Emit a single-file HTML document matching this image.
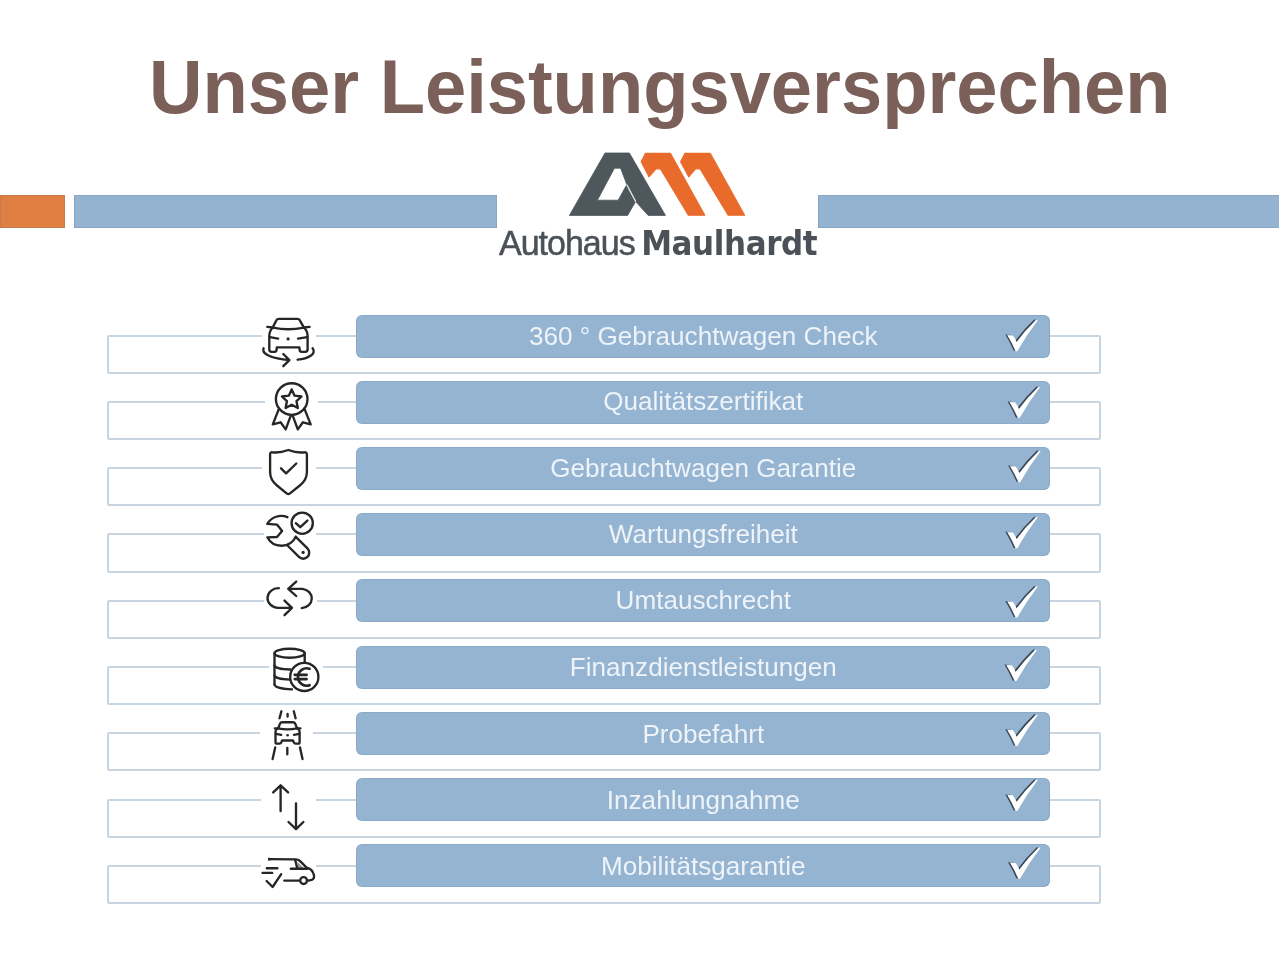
<!DOCTYPE html>
<html lang="de">
<head>
<meta charset="utf-8">
<title>Unser Leistungsversprechen</title>
<style>
html,body{margin:0;padding:0;background:#fff;}
body{width:1279px;height:960px;position:relative;overflow:hidden;font-family:"Liberation Sans",sans-serif;}
h1{position:absolute;left:149px;top:45.5px;margin:0;font-size:74.12px;line-height:84px;font-weight:bold;color:#7b6059;white-space:nowrap;letter-spacing:0px;transform:scaleY(1.032);transform-origin:0 67px;}
.hb{position:absolute;top:195px;height:33px;box-shadow:inset 0 0 0 1px rgba(100,110,130,0.2);}
.hb.o{left:0;width:65px;background:#e07f42;}
.hb.l{left:74px;width:423px;background:#93b3d1;}
.hb.r{left:818px;width:470px;background:#93b3d1;}
.logo{position:absolute;left:560px;top:145px;width:200px;height:80px;}
.brand{position:absolute;left:499px;top:223px;height:40px;line-height:40px;color:#4b5156;white-space:nowrap;}
.brand span{display:inline-block;}
.brand .a{transform:scaleY(1.05);transform-origin:0 31.8px;font-family:"Liberation Sans",sans-serif;font-size:34px;letter-spacing:-1px;-webkit-text-stroke:0.5px #4b5156;}
.brand .m{transform:scaleY(1.1);transform-origin:0 30.7px;font-family:"DejaVu Sans","Liberation Sans",sans-serif;font-size:31px;font-weight:bold;letter-spacing:-0.4px;margin-left:2px;}
ul{list-style:none;margin:0;padding:0;}
li{position:absolute;left:0;width:1279px;height:66px;}
li .box{position:absolute;left:107px;top:20px;width:990px;height:35px;border:2px solid #c8d5e1;border-radius:2px;box-sizing:content-box;}
li .ic{position:absolute;left:261px;top:-2px;width:55px;height:56px;background:#fff;}
li svg.icon{position:absolute;left:250px;width:80px;height:70px;overflow:visible;}
li .bar{position:absolute;left:356px;top:0;width:694px;height:43px;background:#94b4d2;border-radius:6px;box-shadow:inset 0 0 0 1px rgba(100,125,160,0.18);color:#edf3f8;font-size:26.1px;line-height:43px;text-align:center;}
li .bar span{display:block;position:relative;padding-left:0.6px;}
li .ck{position:absolute;left:1000px;top:0;width:46px;height:43px;overflow:visible;}
svg .s{fill:none;stroke:#262626;stroke-width:2.35;stroke-linecap:round;stroke-linejoin:round;}
</style>
</head>
<body>
<h1>Unser Leistungsversprechen</h1>
<div class="hb o"></div><div class="hb l"></div><div class="hb r"></div>
<svg class="logo" viewBox="560 145 200 80">
<path fill="#4d575c" stroke="#4d575c" stroke-width="0.8" stroke-linejoin="round" fill-rule="evenodd" d="M569.4 215.4 L605 153 L629.4 153 L665.5 215.4 L648.2 215.4 L635.6 201.6 L627.6 215.4 Z M614.4 168.2 L620.6 168.2 L626.8 184.6 L618.2 200.2 L597.4 200.2 Z"/>
<path fill="#e96b2c" stroke="#e96b2c" stroke-width="1.2" stroke-linejoin="round" d="M645.4 153.4 L670.4 153.4 L704.8 215.2 L688.4 215.2 L660.4 168.8 L656 168.8 L649 176.8 L641.2 161.8 Z"/>
<path fill="#e96b2c" stroke="#e96b2c" stroke-width="1.2" stroke-linejoin="round" d="M685 153.4 L710.2 153.4 L744.6 215.2 L728.2 215.2 L700 168.8 L695.6 168.8 L688.7 176.8 L680.6 161.8 Z"/>
<path d="M626.8 184.8 L635.8 201.8" stroke="#fff" stroke-width="1.3" opacity="0.9" fill="none"/>
</svg>
<div class="brand"><span class="a">Autohaus</span> <span class="m">Maulhardt</span></div>
<ul id="rows">
<li style="top:315px">
<div class="box" style="top:20px;height:35px"></div>
<div class="ic" style="left:262px;width:54px"></div>
<svg class="icon" style="top:-10px" viewBox="250 305 80 70">
<path class="s" d="M272.8 327.4 L276.2 320.6 Q277 318.9 279 318.9 L297.2 318.9 Q299.2 318.9 300 320.6 L303.8 327.4"/>
<path class="s" d="M267.3 326.9 L272.8 327.5 M303.8 327.5 L309.6 326.9"/>
<path class="s" d="M273 327.6 Q288 331 304 327.6"/>
<path class="s" d="M272.8 327.5 Q269.3 331 269.3 336 L269.3 349.5 Q269.3 351.8 271.6 351.8 L274.6 351.8 Q276.4 351.8 276.6 349.6 L276.8 347.3 L299.4 347.3 L299.6 349.6 Q299.8 351.8 301.8 351.8 L305.2 351.8 Q307.6 351.8 307.6 349.5 L307.6 336 Q307.6 331 304 327.5"/>
<path class="s" d="M269.8 337.1 L278.2 338.6 M298 338.6 L307.2 337.1"/>
<circle cx="288.1" cy="338.9" r="1.6" fill="#262626"/>
<path class="s" d="M263.6 348.2 C261 354 272 358.6 289.2 360.1 M283.3 354 L289.4 360.1 L283.3 366.2"/>
<path class="s" d="M297.6 359.7 C308 358.6 317 354 312.6 348.2"/>
</svg>
<div class="bar"><span style="top:0px">360 ° Gebrauchtwagen Check</span></div>
<svg class="ck" viewBox="1000.0 0.0 46 43"><path d="M1007.2 20 L1012.8 20.4 Q1015.2 23.4 1016.6 27 Q1025.2 15.2 1036 5 L1037.8 5.2 Q1026.2 20.4 1017.3 36.2 L1015.6 36.2 Q1011.8 27.5 1007.2 20 Z" fill="#3b4856" transform="translate(-1.9 -0.4)"/><path d="M1007.2 20 L1012.8 20.4 Q1015.2 23.4 1016.6 27 Q1025.2 15.2 1036 5 L1037.8 5.2 Q1026.2 20.4 1017.3 36.2 L1015.6 36.2 Q1011.8 27.5 1007.2 20 Z" fill="#fff"/></svg>
</li>
<li style="top:381px">
<div class="box" style="top:20px;height:35px"></div>
<div class="ic" style="left:265px;width:53px"></div>
<svg class="icon" style="top:-9px" viewBox="250 372 80 70">
<circle class="s" cx="291.7" cy="399" r="15.8"/>
<path class="s" d="M291.7 389.4 L294.6 395.7 L301.5 396.5 L296.5 401.2 L297.8 408.0 L291.7 404.7 L285.6 408.0 L286.9 401.2 L281.9 396.5 L288.8 395.7 Z"/>
<path class="s" d="M279 408.6 L272.8 424.4 L280.6 422.3 L285.7 429.4 L290.8 415.6 M304.4 408.6 L310.7 424.4 L302.9 422.3 L297.8 429.4 L292.7 415.6"/>
</svg>
<div class="bar"><span style="top:-1px">Qualitätszertifikat</span></div>
<svg class="ck" viewBox="997.7 -0.9 46 43"><path d="M1007.2 20 L1012.8 20.4 Q1015.2 23.4 1016.6 27 Q1025.2 15.2 1036 5 L1037.8 5.2 Q1026.2 20.4 1017.3 36.2 L1015.6 36.2 Q1011.8 27.5 1007.2 20 Z" fill="#3b4856" transform="translate(-1.9 -0.4)"/><path d="M1007.2 20 L1012.8 20.4 Q1015.2 23.4 1016.6 27 Q1025.2 15.2 1036 5 L1037.8 5.2 Q1026.2 20.4 1017.3 36.2 L1015.6 36.2 Q1011.8 27.5 1007.2 20 Z" fill="#fff"/></svg>
</li>
<li style="top:447px">
<div class="box" style="top:20px;height:35px"></div>
<div class="ic" style="left:262px;width:54px"></div>
<svg class="icon" style="top:-9px" viewBox="250 438 80 70">
<path class="s" d="M288.3 450 Q280 453.2 272.2 452.3 Q270.1 452.2 270.1 454.4 L270.1 472 Q270.1 480 277 485.5 L286.6 493.4 Q288.3 494.8 290 493.4 L299.8 485.5 Q306.9 480 306.9 472 L306.9 454.4 Q306.9 452.2 304.6 452.3 Q296.6 453.2 288.3 450 Z"/>
<path class="s" d="M281 468.3 L286.1 473.4 L296.3 463.5"/>
</svg>
<div class="bar"><span style="top:0px">Gebrauchtwagen Garantie</span></div>
<svg class="ck" viewBox="997.2 1.0 46 43"><path d="M1007.2 20 L1012.8 20.4 Q1015.2 23.4 1016.6 27 Q1025.2 15.2 1036 5 L1037.8 5.2 Q1026.2 20.4 1017.3 36.2 L1015.6 36.2 Q1011.8 27.5 1007.2 20 Z" fill="#3b4856" transform="translate(-1.9 -0.4)"/><path d="M1007.2 20 L1012.8 20.4 Q1015.2 23.4 1016.6 27 Q1025.2 15.2 1036 5 L1037.8 5.2 Q1026.2 20.4 1017.3 36.2 L1015.6 36.2 Q1011.8 27.5 1007.2 20 Z" fill="#fff"/></svg>
</li>
<li style="top:513px">
<div class="box" style="top:20px;height:36px"></div>
<div class="ic" style="left:264px;width:52px"></div>
<svg class="icon" style="top:-11px" viewBox="250 502 80 70">
<circle class="s" cx="302.2" cy="523.2" r="10.6"/>
<path class="s" d="M295.8 523.2 L300.3 527.2 L307.4 520.6"/>
<path class="s" d="M287.4 517.2 A16 16 0 0 0 267.3 523.9 L277 524.6 L282.1 531 L277 537 L267.3 537.3 A16 16 0 0 0 295.8 536.8"/>
<path class="s" d="M287.5 545.5 L298.95 556.95 A6.01 6.01 0 0 0 307.45 548.45 L295.8 536.8"/>
<circle cx="303.1" cy="552.4" r="1.6" fill="#262626"/>
</svg>
<div class="bar"><span style="top:0px">Wartungsfreiheit</span></div>
<svg class="ck" viewBox="1000.0 0.9 46 43"><path d="M1007.2 20 L1012.8 20.4 Q1015.2 23.4 1016.6 27 Q1025.2 15.2 1036 5 L1037.8 5.2 Q1026.2 20.4 1017.3 36.2 L1015.6 36.2 Q1011.8 27.5 1007.2 20 Z" fill="#3b4856" transform="translate(-1.9 -0.4)"/><path d="M1007.2 20 L1012.8 20.4 Q1015.2 23.4 1016.6 27 Q1025.2 15.2 1036 5 L1037.8 5.2 Q1026.2 20.4 1017.3 36.2 L1015.6 36.2 Q1011.8 27.5 1007.2 20 Z" fill="#fff"/></svg>
</li>
<li style="top:579px">
<div class="box" style="top:21px;height:35px"></div>
<div class="ic" style="left:264px;width:53px"></div>
<svg class="icon" style="top:-11px" viewBox="250 568 80 70">
<path class="s" d="M278.8 588.2 A10.9 9.8 0 0 0 278 607.8 L291.8 607.8 M284.5 600.6 L292 607.8 L284.5 615.2"/>
<path class="s" d="M288.2 588.8 L302.4 588.8 A10.7 9.7 0 0 1 301.8 608.1 M296.2 581.6 L288.2 588.8 L296.2 596"/>
</svg>
<div class="bar"><span style="top:0px">Umtauschrecht</span></div>
<svg class="ck" viewBox="1000.0 -2.3 46 43"><path d="M1007.2 20 L1012.8 20.4 Q1015.2 23.4 1016.6 27 Q1025.2 15.2 1036 5 L1037.8 5.2 Q1026.2 20.4 1017.3 36.2 L1015.6 36.2 Q1011.8 27.5 1007.2 20 Z" fill="#3b4856" transform="translate(-1.9 -0.4)"/><path d="M1007.2 20 L1012.8 20.4 Q1015.2 23.4 1016.6 27 Q1025.2 15.2 1036 5 L1037.8 5.2 Q1026.2 20.4 1017.3 36.2 L1015.6 36.2 Q1011.8 27.5 1007.2 20 Z" fill="#fff"/></svg>
</li>
<li style="top:646px">
<div class="box" style="top:20px;height:35px"></div>
<div class="ic" style="left:269px;width:54px"></div>
<svg class="icon" style="top:-11px" viewBox="250 635 80 70">
<ellipse class="s" cx="289.6" cy="653.2" rx="15.1" ry="4.5"/>
<path class="s" d="M274.5 653.2 L274.5 684.4 M304.7 653.2 L304.7 662.8"/>
<path class="s" d="M274.5 665.4 C275 667.8 282 669.3 290.2 669.5 M274.5 675.6 C275 678 282 679.5 290 679.7 M274.5 684.4 C275 687.5 283 689.2 292 689.4"/>
<circle class="s" cx="304.3" cy="676.9" r="14.1" style="fill:#fff"/>
<path class="s" style="stroke-width:2.7" d="M309.6 668.8 A8.7 8.7 0 1 0 309.6 685.2 M294.8 674.8 L306.6 674.8 M294.8 679.1 L306.6 679.1"/>
</svg>
<div class="bar"><span style="top:0px">Finanzdienstleistungen</span></div>
<svg class="ck" viewBox="1000.9 1.1 46 43"><path d="M1007.2 20 L1012.8 20.4 Q1015.2 23.4 1016.6 27 Q1025.2 15.2 1036 5 L1037.8 5.2 Q1026.2 20.4 1017.3 36.2 L1015.6 36.2 Q1011.8 27.5 1007.2 20 Z" fill="#3b4856" transform="translate(-1.9 -0.4)"/><path d="M1007.2 20 L1012.8 20.4 Q1015.2 23.4 1016.6 27 Q1025.2 15.2 1036 5 L1037.8 5.2 Q1026.2 20.4 1017.3 36.2 L1015.6 36.2 Q1011.8 27.5 1007.2 20 Z" fill="#fff"/></svg>
</li>
<li style="top:712px">
<div class="box" style="top:20px;height:35px"></div>
<div class="ic" style="left:260px;width:53px"></div>
<svg class="icon" style="top:-12px" viewBox="250 700 80 70">
<path class="s" d="M278.3 728 L280 723.6 Q280.6 722.2 282.2 722.2 L293 722.2 Q294.5 722.2 295.2 723.6 L297 728"/>
<path class="s" d="M278.3 728.2 L276.6 729.4 Q275.5 730.2 275.5 732 L275.5 742.2 Q275.5 743.6 277 743.6 L279.6 743.6 Q280.8 743.6 281.3 742.4 L282.1 740.5 L293 740.5 L293.8 742.4 Q294.3 743.6 295.6 743.6 L298.2 743.6 Q299.6 743.6 299.6 742.2 L299.6 732 Q299.6 730.2 298.5 729.4 L297 728.2"/>
<path class="s" d="M274.8 728.3 L278.3 728.3 M297 728.3 L300.4 728.3 M278.3 728.4 Q287.6 730.4 297 728.4"/>
<path class="s" d="M276 733.9 L281.2 734.8 M294 734.8 L299.2 733.9"/>
<circle cx="287.6" cy="735.2" r="1.3" fill="#262626"/>
<path class="s" d="M281.4 711.3 L279.5 718.2 M293.8 711.3 L295.6 718.2 M287.6 714 L287.6 716.6 M275.2 747.4 L272.6 759.1 M300 747.4 L302.5 759.1 M287.3 747.8 L287.3 754.3"/>
</svg>
<div class="bar"><span style="top:1px">Probefahrt</span></div>
<svg class="ck" viewBox="1000.0 2.3 46 43"><path d="M1007.2 20 L1012.8 20.4 Q1015.2 23.4 1016.6 27 Q1025.2 15.2 1036 5 L1037.8 5.2 Q1026.2 20.4 1017.3 36.2 L1015.6 36.2 Q1011.8 27.5 1007.2 20 Z" fill="#3b4856" transform="translate(-1.9 -0.4)"/><path d="M1007.2 20 L1012.8 20.4 Q1015.2 23.4 1016.6 27 Q1025.2 15.2 1036 5 L1037.8 5.2 Q1026.2 20.4 1017.3 36.2 L1015.6 36.2 Q1011.8 27.5 1007.2 20 Z" fill="#fff"/></svg>
</li>
<li style="top:778px">
<div class="box" style="top:21px;height:35px"></div>
<div class="ic" style="left:261px;width:55px"></div>
<svg class="icon" style="top:-10px" viewBox="250 768 80 70">
<path class="s" d="M280.6 786 L280.6 811 M273.2 792.4 L280.6 785.3 L288.1 792.4"/>
<path class="s" d="M296 803.4 L296 828.6 M288.5 822 L296 829.2 L303.4 822"/>
</svg>
<div class="bar"><span style="top:1px">Inzahlungnahme</span></div>
<svg class="ck" viewBox="1000.0 3.2 46 43"><path d="M1007.2 20 L1012.8 20.4 Q1015.2 23.4 1016.6 27 Q1025.2 15.2 1036 5 L1037.8 5.2 Q1026.2 20.4 1017.3 36.2 L1015.6 36.2 Q1011.8 27.5 1007.2 20 Z" fill="#3b4856" transform="translate(-1.9 -0.4)"/><path d="M1007.2 20 L1012.8 20.4 Q1015.2 23.4 1016.6 27 Q1025.2 15.2 1036 5 L1037.8 5.2 Q1026.2 20.4 1017.3 36.2 L1015.6 36.2 Q1011.8 27.5 1007.2 20 Z" fill="#fff"/></svg>
</li>
<li style="top:844px">
<div class="box" style="top:21px;height:35px"></div>
<div class="ic" style="left:261px;width:55px"></div>
<svg class="icon" style="top:-9px" viewBox="250 835 80 70">
<path class="s" d="M269 859.1 L296 859.4 Q298.8 859.6 300.4 861.4 L306.6 867.6 Q311 868.6 312.4 871.4 L313.8 874.6 Q315 878.4 311.8 879.8 L308.2 880.6"/>
<path d="M268.4 857.5 L274 859.1 L268.4 861 Z" fill="#262626"/>
<path d="M297.4 861.8 L303.8 868 L298 868.2 Z" fill="#9a9a9a"/>
<path class="s" d="M295.2 860.2 L297.4 868.6 M290.8 868.7 L307.4 868.7 M284.3 880.6 L299.2 880.6"/>
<circle class="s" cx="303.6" cy="880.6" r="3.4"/>
<path class="s" d="M266.8 868.2 L277.4 868.2 M262.6 872.9 L272.2 872.9 M266.6 881 L272.6 887 L281.2 874.2"/>
</svg>
<div class="bar"><span style="top:1px">Mobilitätsgarantie</span></div>
<svg class="ck" viewBox="997.3 1.4 46 43"><path d="M1007.2 20 L1012.8 20.4 Q1015.2 23.4 1016.6 27 Q1025.2 15.2 1036 5 L1037.8 5.2 Q1026.2 20.4 1017.3 36.2 L1015.6 36.2 Q1011.8 27.5 1007.2 20 Z" fill="#3b4856" transform="translate(-1.9 -0.4)"/><path d="M1007.2 20 L1012.8 20.4 Q1015.2 23.4 1016.6 27 Q1025.2 15.2 1036 5 L1037.8 5.2 Q1026.2 20.4 1017.3 36.2 L1015.6 36.2 Q1011.8 27.5 1007.2 20 Z" fill="#fff"/></svg>
</li>
</ul>
</body>
</html>
